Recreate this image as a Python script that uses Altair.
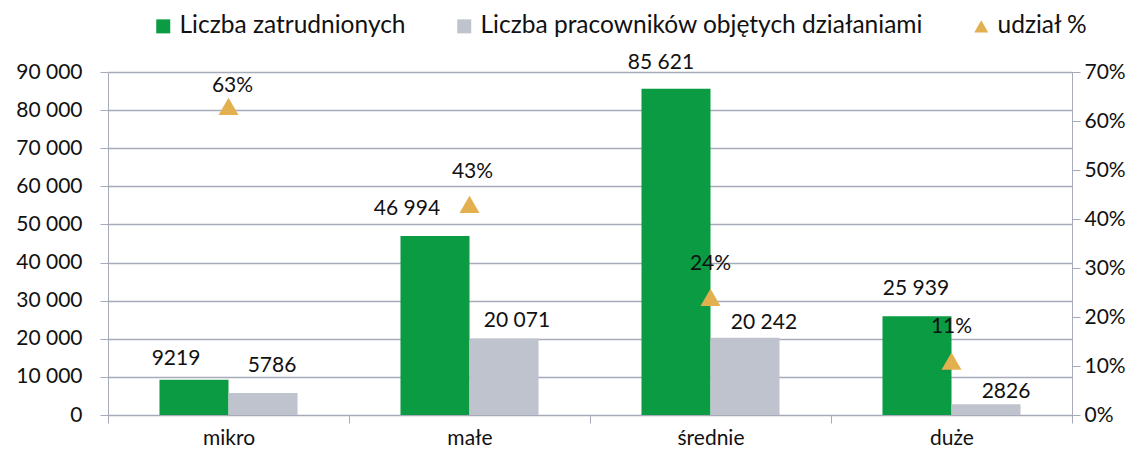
import altair as alt
import pandas as pd

# ---- data ----
categories = ["mikro", "małe", "średnie", "duże"]
employed = [9219, 46994, 85621, 25939]          # Liczba zatrudnionych
covered = [5786, 20071, 20242, 2826]            # Liczba pracowników objętych działaniami
share_pct = [63, 43, 24, 11]                    # udział %

series_names = ["Liczba zatrudnionych",
                "Liczba pracowników objętych działaniami",
                "udział %"]

# ---- styling ----
colors = ["#0A9B43", "#BFC3CE", "#E3B04F"]
shapes = ["square", "square", "triangle-up"]
grid_color = "#A6AAB9"
text_color = "#111111"
FONT = "Lato"
FS = 21

# per-label pixel nudges (label placement as in the reference)
employed_nudge = [(-18, -21), (-28, -27), (-15, -26), (-1, -27)]
covered_nudge = [(9, -27), (13, -18), (19, -15), (20, -12)]
share_nudge = [(4, -20), (3, -32), (0, -33), (0, -34)]


def fmt(v):
    return f"{v:,}".replace(",", " ") if v >= 10000 else str(v)


bars_df = pd.DataFrame({
    "kategoria": categories * 2,
    "seria": [series_names[0]] * 4 + [series_names[1]] * 4,
    "wartosc": employed + covered,
})
bars_df["etykieta"] = bars_df["wartosc"].map(fmt)

share_df = pd.DataFrame({
    "kategoria": categories,
    "seria": [series_names[2]] * 4,
    "udzial": [p / 100 for p in share_pct],
    "etykieta": [f"{p}%" for p in share_pct],
})

legend = alt.Legend(
    orient="none", legendX=43, legendY=-58, direction="horizontal", columns=3,
    title=None, labelFont=FONT, labelFontSize=24.5, labelColor=text_color, labelLimit=0,
    symbolSize=196, symbolStrokeWidth=0, labelOffset=4, columnPadding=46,
    padding=0, symbolType="square",
)
color_enc = alt.Color("seria:N", scale=alt.Scale(domain=series_names, range=colors), legend=legend)
shape_enc = alt.Shape("seria:N", scale=alt.Scale(domain=series_names, range=shapes), legend=legend)

x_enc = alt.X(
    "kategoria:N", sort=categories,
    scale=alt.Scale(paddingInner=0, paddingOuter=0),
    axis=alt.Axis(title=None, labelAngle=0, tickBand="extent", ticks=True, tickSize=8,
                  tickColor=grid_color, domainColor=grid_color, labelFont=FONT,
                  labelFontSize=FS, labelColor=text_color, labelPadding=4, grid=False),
)
xoff_enc = alt.XOffset("seria:N", sort=series_names[:2],
                       scale=alt.Scale(domain=series_names[:2], paddingOuter=0.746, paddingInner=0))

y_left = alt.Y(
    "wartosc:Q",
    scale=alt.Scale(domain=[0, 90000], nice=False, zero=True),
    axis=alt.Axis(title=None, values=list(range(0, 90001, 10000)), orient="left",
                  labelExpr="replace(format(datum.value, ','), ',', ' ')",
                  grid=True, gridColor=grid_color, gridWidth=1.3, tickColor=grid_color, tickSize=8,
                  domainColor=grid_color, labelFont=FONT, labelFontSize=FS,
                  labelColor=text_color, labelPadding=18),
)
y_right = alt.Y(
    "udzial:Q",
    scale=alt.Scale(domain=[0, 0.7], nice=False, zero=True),
    axis=alt.Axis(title=None, values=[i / 10 for i in range(8)], orient="right", format=".0%",
                  grid=False, tickColor=grid_color, tickSize=8, domainColor=grid_color,
                  labelFont=FONT, labelFontSize=FS, labelColor=text_color, labelPadding=4),
)

bars = alt.Chart(bars_df).mark_bar().encode(
    x=x_enc, xOffset=xoff_enc, y=y_left, color=color_enc,
)

bar_labels = []
for si, nudges in enumerate([employed_nudge, covered_nudge]):
    for ci, (ddx, ddy) in enumerate(nudges):
        bar_labels.append(
            alt.Chart(bars_df).transform_filter(
                (alt.datum.kategoria == categories[ci]) & (alt.datum.seria == series_names[si])
            ).mark_text(font=FONT, fontSize=FS, color=text_color, baseline="middle",
                        align="center", dx=ddx, dy=ddy).encode(
                x=x_enc, xOffset=xoff_enc, y=y_left, text="etykieta:N")
        )

points = alt.Chart(share_df).mark_point(filled=True, size=400, opacity=1, strokeWidth=0).encode(
    x=x_enc, y=y_right, color=color_enc, shape=shape_enc,
)

share_labels = []
for ci, (ddx, ddy) in enumerate(share_nudge):
    share_labels.append(
        alt.Chart(share_df).transform_filter(alt.datum.kategoria == categories[ci])
        .mark_text(font=FONT, fontSize=FS, color=text_color, baseline="middle",
                   align="center", dx=ddx, dy=ddy)
        .encode(x=x_enc, y=y_right, text="etykieta:N")
    )

left = alt.layer(bars, *bar_labels)
right = alt.layer(points, *share_labels)

chart = alt.layer(left, right).resolve_scale(y="independent").properties(
    width=964, height=343,
    padding={"left": 100, "top": 64, "right": 60, "bottom": 35},
    autosize=alt.AutoSizeParams(type="none"),
).configure_view(stroke=None).configure(background="white")

chart.save("out.html", embed_options={"renderer": "svg", "actions": False})
